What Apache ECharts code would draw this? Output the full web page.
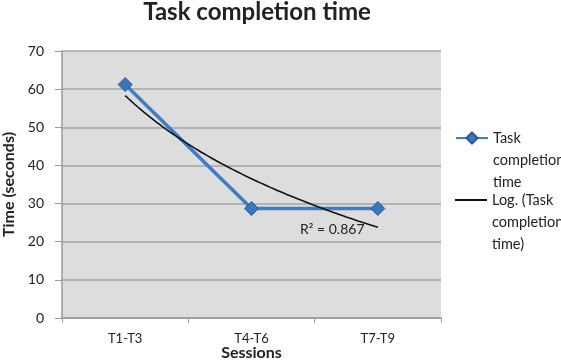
<!DOCTYPE html>
<html><head><meta charset="utf-8">
<script src="https://cdn.jsdelivr.net/npm/echarts@6/dist/echarts.min.js"></script>
<style>html,body{margin:0;padding:0;background:#fff}#c{width:561px;height:361px}</style>
</head><body><div id="c"></div>
<script>
const categories = ['T1-T3', 'T4-T6', 'T7-T9'];
const taskTimes = [61.2, 28.7, 28.7];
const yTicks = [0, 10, 20, 30, 40, 50, 60, 70];
const seriesName = 'Task completion time';
const trendName = 'Log. (Task completion time)';
const r2Label = 'R² = 0.867';

// Logarithmic least-squares fit y = a + b ln(x), x = 1..n (like Excel's trendline)
const xs = taskTimes.map((_, i) => Math.log(i + 1));
const mx = xs.reduce((s, v) => s + v, 0) / xs.length;
const my = taskTimes.reduce((s, v) => s + v, 0) / taskTimes.length;
let sxy = 0, sxx = 0;
xs.forEach((x, i) => { sxy += (x - mx) * (taskTimes[i] - my); sxx += (x - mx) * (x - mx); });
const b = sxy / sxx, a = my - b * mx;
const trend = [];
for (let k = 0; k <= 80; k++) { const x = 1 + k * (taskTimes.length - 1) / 80; trend.push([x, a + b * Math.log(x)]); }

const FONT = 'Lato';
const LH = 22;
const chart = echarts.init(document.getElementById('c'), null, {renderer: 'canvas'});
chart.setOption({
  animation: false,
  textStyle: {fontFamily: FONT},
  title: {text: 'Task completion time', left: 252, top: -5, textAlign: 'center',
    textStyle: {fontFamily: FONT, fontWeight: 'bold', fontSize: 24, color: '#222'}},
  grid: {left: 62, right: 120, top: 51, bottom: 43, show: true, backgroundColor: '#dddddd', borderWidth: 0,
    containLabel: false, outerBoundsMode: 'none'},
  xAxis: [
    {type: 'category', data: categories, boundaryGap: true,
     name: 'Sessions', nameLocation: 'middle', nameGap: 27, nameMoveOverlap: false,
     nameTextStyle: {fontFamily: FONT, fontWeight: 'bold', fontSize: 16, color: '#222'},
     axisLine: {lineStyle: {color: '#9a9a9a', width: 1.5}},
     axisTick: {show: true, length: 5, lineStyle: {color: '#9a9a9a'}, alignWithLabel: false},
     axisLabel: {color: '#222', fontSize: 13, margin: 14, fontFamily: FONT}},
    {type: 'value', min: 0.5, max: 3.5, show: false}
  ],
  yAxis: {type: 'value', min: yTicks[0], max: yTicks[yTicks.length - 1], interval: 10,
    name: 'Time (seconds)', nameLocation: 'middle', nameGap: 42, nameRotate: 90,
    nameTextStyle: {fontFamily: FONT, fontWeight: 'bold', fontSize: 16, color: '#222'},
    axisLine: {show: true, lineStyle: {color: '#9a9a9a', width: 1.5}},
    axisTick: {show: true, length: 7, lineStyle: {color: '#9a9a9a'}},
    axisLabel: {color: '#222', fontSize: 14, margin: 18, fontFamily: FONT},
    splitLine: {lineStyle: {color: '#a3a3a3', width: 1.5}}},
  legend: [
    {data: [seriesName], orient: 'vertical', left: 455, top: 138 - 2.5 * LH, padding: 0,
     itemWidth: 32, itemHeight: 14,
     formatter: () => '\n\nTask\ncompletion\ntime',
     textStyle: {fontFamily: FONT, fontSize: 14.5, color: '#222', lineHeight: LH}},
    {data: [{name: trendName, icon: 'rect'}], orient: 'vertical', left: 455, top: 200 - 2.5 * LH, padding: 0,
     itemWidth: 32, itemHeight: 2,
     formatter: () => '\n\nLog. (Task\ncompletion\ntime)',
     textStyle: {fontFamily: FONT, fontSize: 14.5, color: '#222', lineHeight: LH}}
  ],
  series: [
    {name: seriesName, type: 'line', xAxisIndex: 0, data: taskTimes,
     lineStyle: {color: '#3d7cc9', width: 3.5},
     symbol: 'diamond', symbolSize: 14,
     itemStyle: {color: '#3a76bf', borderColor: '#2a5a98', borderWidth: 1}, z: 3},
    {name: trendName, type: 'line', xAxisIndex: 1, data: trend, showSymbol: false, symbol: 'none',
     lineStyle: {color: '#111', width: 1.6}, itemStyle: {color: '#111'}, z: 4}
  ],
  graphic: [{type: 'text', left: 300, top: 222, z: 10,
    style: {text: r2Label, fontFamily: FONT, fontSize: 14, fill: '#222'}}]
});
</script></body></html>
